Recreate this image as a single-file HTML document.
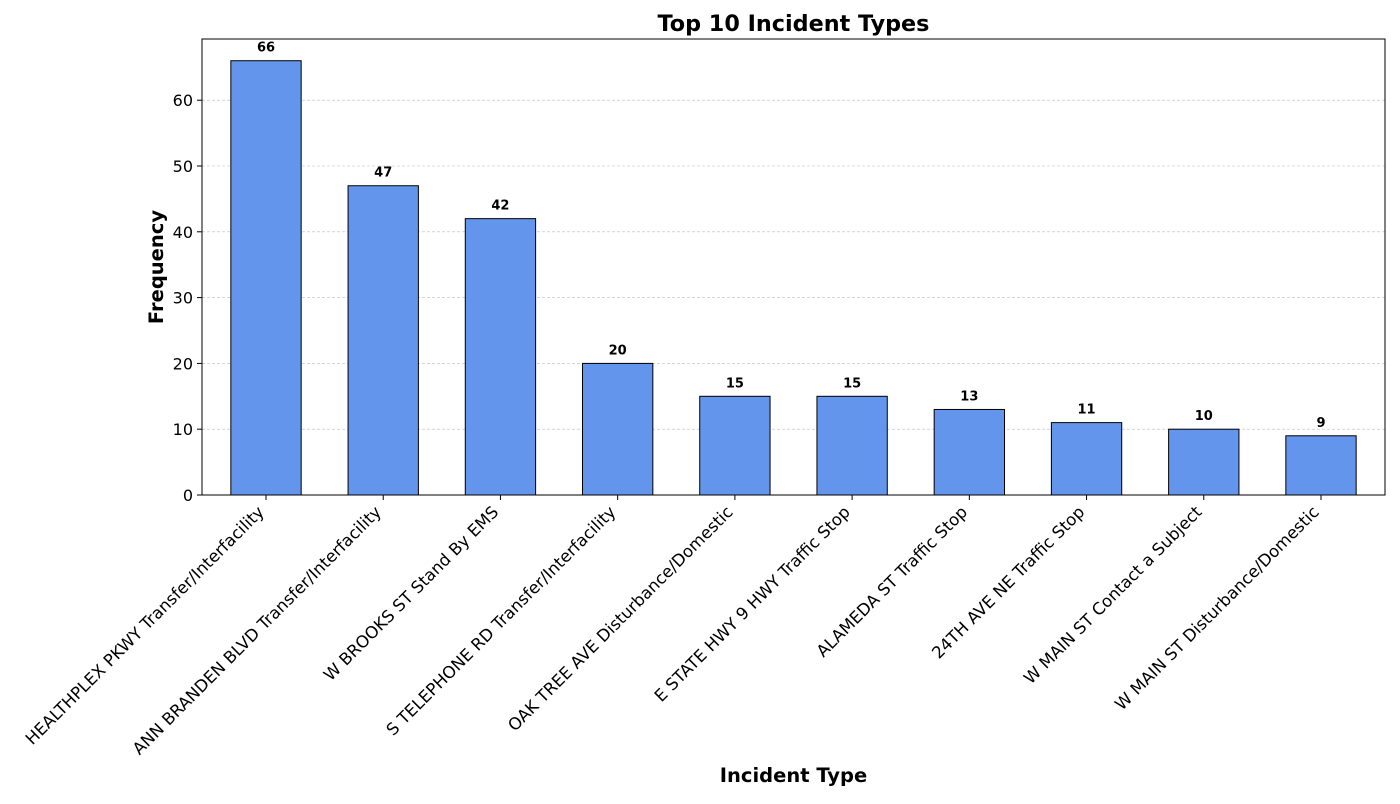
<!DOCTYPE html>
<html><head><meta charset="utf-8"><style>
body{margin:0;background:#fff;font-family:"DejaVu Sans",sans-serif}
</style></head><body>
<svg id="chart" width="1400" height="800" xmlns="http://www.w3.org/2000/svg" font-family="DejaVu Sans, sans-serif"></svg>
<script>
const categories=["HEALTHPLEX PKWY Transfer/Interfacility","ANN BRANDEN BLVD Transfer/Interfacility","W BROOKS ST Stand By EMS","S TELEPHONE RD Transfer/Interfacility","OAK TREE AVE Disturbance/Domestic","E STATE HWY 9 HWY Traffic Stop","ALAMEDA ST Traffic Stop","24TH AVE NE Traffic Stop","W MAIN ST Contact a Subject","W MAIN ST Disturbance/Domestic"];
const values=[66,47,42,20,15,15,13,11,10,9];
const yTicks=[0,10,20,30,40,50,60];
const L=202,R=1385,T=39,B=495;
const xMin=-0.546,xMax=9.546,yMax=69.3;
const sx=v=>L+(v-xMin)/(xMax-xMin)*(R-L);
const sy=v=>B-v/yMax*(B-T);
const svg=document.getElementById('chart');
const NS='http://www.w3.org/2000/svg';
function mk(tag,attrs,txt){const e=document.createElementNS(NS,tag);for(const k in attrs)e.setAttribute(k,attrs[k]);if(txt!==undefined)e.textContent=txt;svg.appendChild(e);return e;}
yTicks.forEach(t=>{
  if(t>0){const g=mk('line',{x1:L,x2:R,y1:sy(t),y2:sy(t),stroke:'#bbb','stroke-width':0.6,'stroke-dasharray':'3,2'});
  
  }
  const tk=mk('line',{x1:L-5,x2:L,y1:sy(t),y2:sy(t),stroke:'#000','stroke-width':1});
  
  
  const tl=mk('text',{x:L-9,y:sy(t)+6,'text-anchor':'end','font-size':16},String(t));
  
  
});
values.forEach((v,i)=>{
  const x0=sx(i-0.3),x1=sx(i+0.3);
  const b=mk('rect',{x:x0,y:sy(v),width:x1-x0,height:B-sy(v),fill:'#6495ED',stroke:'#000','stroke-width':1});
  
  
  const vl=mk('text',{x:sx(i),y:sy(v)-9,'text-anchor':'middle','font-size':13,'font-weight':'bold'},String(v));
  
  
  const tk=mk('line',{x1:sx(i),x2:sx(i),y1:B,y2:B+5,stroke:'#000','stroke-width':1});
  
  
  const ax=sx(i)-1,ay=B+18;
  const xl=mk('text',{x:ax,y:ay,'text-anchor':'end','font-size':16.6,transform:`rotate(-45 ${ax} ${ay})`},categories[i]);
  
  
});
const fr=mk('rect',{x:L,y:T,width:R-L,height:B-T,fill:'none',stroke:'#000','stroke-width':1});


const tt=mk('text',{x:(L+R)/2,y:31,'text-anchor':'middle','font-size':22.3,'font-weight':'bold'},'Top 10 Incident Types');


const xt=mk('text',{x:(L+R)/2,y:782,'text-anchor':'middle','font-size':19.5,'font-weight':'bold'},'Incident Type');


const yt=mk('text',{x:163,y:(T+B)/2,'text-anchor':'middle','font-size':19.5,'font-weight':'bold',transform:`rotate(-90 163 ${(T+B)/2})`},'Frequency');


</script>
</body></html>
